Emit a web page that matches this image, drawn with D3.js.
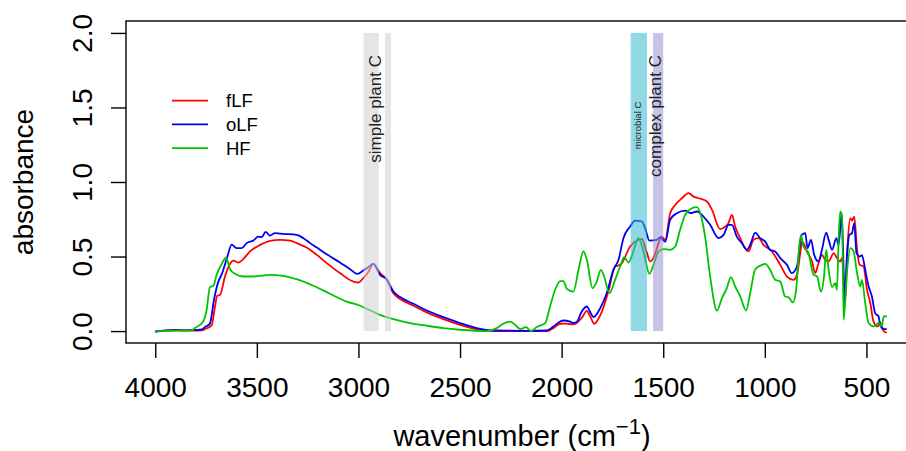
<!DOCTYPE html>
<html>
<head>
<meta charset="utf-8">
<script src="https://cdn.jsdelivr.net/npm/d3@7"></script>
<style>
  html, body { margin: 0; padding: 0; background: #fff; }
  svg { display: block; font-family: "Liberation Sans", Arial, Helvetica, sans-serif; }
</style>
</head>
<body>
<svg id="chart" width="906" height="451"></svg>
<script>
// FTIR spectra of three soil fractions (wavenumber in cm^-1, absorbance)
const wnFLF = [4000,3900,3800,3770,3755,3722,3706,3695,3681,3657,3632,3616,3591,3567,3534,3484,3435,3386,3337,3304,3255,3205,3156,3091,3025,3000,2976,2950,2927,2894,2861,2828,2795,2729,2664,2582,2500,2418,2350,2200,2073,2040,2007,1980,1942,1900,1876,1860,1839,1820,1802,1770,1737,1720,1704,1663,1638,1605,1584,1564,1545,1523,1507,1490,1466,1441,1408,1375,1351,1326,1285,1260,1220,1195,1179,1162,1146,1121,1097,1080,1056,1031,1006,965,924,891,859,842,826,817,810,793,768,752,736,719,703,686,661,645,629,620,604,593,579,571,560,546,533,514,497,481,465,445,432,415,400];
const absFLF = [0.0,0.005,0.003,0.005,0.013,0.04,0.165,0.237,0.243,0.366,0.451,0.473,0.46,0.483,0.534,0.578,0.605,0.612,0.607,0.59,0.56,0.511,0.456,0.389,0.332,0.326,0.355,0.40,0.451,0.39,0.345,0.254,0.215,0.17,0.125,0.08,0.042,0.013,0.002,0.0,0.0,0.02,0.049,0.05,0.045,0.09,0.136,0.10,0.049,0.08,0.131,0.265,0.433,0.44,0.456,0.567,0.6,0.617,0.54,0.467,0.5,0.59,0.634,0.612,0.791,0.846,0.891,0.925,0.902,0.891,0.869,0.813,0.684,0.701,0.724,0.78,0.701,0.623,0.556,0.534,0.612,0.623,0.578,0.534,0.444,0.366,0.344,0.377,0.52,0.6,0.59,0.534,0.467,0.389,0.456,0.511,0.478,0.467,0.523,0.489,0.467,0.49,0.21,0.567,0.757,0.74,0.768,0.545,0.444,0.433,0.277,0.188,0.064,0.031,0.054,0.0,-0.01];

const wnOLF = [4000,3950,3900,3850,3800,3770,3755,3731,3711,3690,3673,3645,3624,3600,3575,3550,3517,3493,3476,3457,3435,3411,3370,3304,3271,3238,3205,3156,3091,3041,3005,2976,2950,2927,2894,2861,2828,2795,2729,2664,2582,2500,2418,2336,2171,2073,2040,2007,1991,1958,1942,1926,1901,1876,1860,1843,1810,1778,1745,1720,1696,1663,1638,1605,1589,1568,1532,1515,1490,1466,1433,1392,1367,1334,1302,1269,1228,1203,1179,1162,1138,1113,1088,1072,1047,1023,998,974,949,924,891,867,842,825,818,801,790,773,757,736,719,698,686,669,648,637,628,622,614,608,596,584,571,560,549,533,522,506,489,473,457,440,432,415,400];
const absOLF = [-0.005,0.005,0.008,0.005,0.008,0.012,0.027,0.05,0.21,0.33,0.38,0.50,0.58,0.556,0.556,0.59,0.607,0.634,0.63,0.665,0.64,0.657,0.652,0.645,0.623,0.59,0.56,0.515,0.46,0.415,0.384,0.406,0.43,0.451,0.377,0.348,0.265,0.228,0.183,0.138,0.094,0.054,0.02,0.004,0.002,0.004,0.031,0.064,0.071,0.064,0.054,0.06,0.131,0.165,0.13,0.094,0.154,0.255,0.411,0.478,0.623,0.701,0.741,0.735,0.69,0.607,0.612,0.63,0.6,0.746,0.791,0.808,0.791,0.802,0.768,0.713,0.623,0.645,0.713,0.713,0.634,0.59,0.545,0.578,0.661,0.623,0.6,0.545,0.534,0.489,0.444,0.389,0.433,0.60,0.645,0.657,0.556,0.612,0.511,0.467,0.545,0.661,0.612,0.545,0.623,0.578,0.70,0.79,0.5,0.188,0.5,0.645,0.657,0.724,0.525,0.5,0.51,0.411,0.299,0.232,0.12,0.098,0.04,0.013,0.013];

const wnHF = [4000,3900,3820,3805,3764,3747,3731,3714,3698,3673,3652,3632,3608,3567,3517,3435,3370,3304,3222,3140,3058,2992,2960,2930,2894,2828,2746,2664,2582,2500,2369,2319,2287,2254,2229,2204,2175,2152,2122,2081,2057,2032,2007,1991,1974,1942,1917,1893,1876,1848,1827,1807,1791,1765,1737,1712,1692,1671,1647,1622,1597,1568,1548,1523,1499,1466,1441,1417,1392,1359,1334,1318,1294,1269,1236,1211,1187,1167,1146,1121,1092,1072,1047,1014,998,974,949,924,900,884,862,846,830,822,810,785,760,743,724,708,698,686,669,653,645,637,629,620,612,596,579,563,546,530,522,506,489,465,440,424,415,399];
const absHF = [0.0,0.003,0.005,0.02,0.064,0.143,0.295,0.304,0.377,0.451,0.493,0.415,0.384,0.366,0.366,0.377,0.371,0.348,0.304,0.25,0.198,0.17,0.15,0.131,0.109,0.08,0.054,0.036,0.02,0.009,0.0,0.02,0.049,0.064,0.042,0.013,0.027,0.0,0.027,0.054,0.165,0.277,0.335,0.335,0.282,0.265,0.411,0.534,0.478,0.288,0.332,0.411,0.366,0.255,0.344,0.433,0.496,0.46,0.534,0.623,0.534,0.384,0.444,0.534,0.55,0.545,0.567,0.679,0.78,0.824,0.831,0.791,0.634,0.366,0.138,0.221,0.288,0.362,0.299,0.232,0.138,0.255,0.415,0.444,0.451,0.411,0.344,0.332,0.232,0.228,0.192,0.277,0.58,0.645,0.567,0.523,0.377,0.366,0.265,0.377,0.545,0.411,0.295,0.322,0.277,0.612,0.802,0.768,0.076,0.389,0.556,0.534,0.389,0.299,0.344,0.188,0.054,0.031,0.054,0.031,0.098,0.098];

const seriesNames = ["fLF", "oLF", "HF"];
const seriesColors = ["#ff0000", "#0000f0", "#00c400"];

// Highlighted absorption regions: [high, low] wavenumber
const bandRanges = [[2975, 2900], [2870, 2840], [1660, 1580], [1550, 1500]];
const bandFills = ["#d0d0d0", "#d0d0d0", "#33b8ce", "#9692d1"];
const bandLabels = ["simple plant C", "microbial C", "complex plant C"];
const bandLabelPos = [2908, 1620, 1525];

const xTicks = [4000, 3500, 3000, 2500, 2000, 1500, 1000, 500];
const yTicks = [0, 0.5, 1, 1.5, 2];

const svg = d3.select("#chart");
const plotL = 126, plotR = 916, plotT = 21, plotB = 343;

const x = d3.scaleLinear().domain([4144, 256]).range([plotL, plotR]);
const y = d3.scaleLinear().domain([-0.08, 2.08]).range([plotB, plotT]);

const series = [
  { wn: wnFLF, ab: absFLF },
  { wn: wnOLF, ab: absOLF },
  { wn: wnHF, ab: absHF }
];

const line = d3.line()
  .x(d => x(d[0]))
  .y(d => y(d[1]))
  .curve(d3.curveMonotoneX);

// spectra
series.forEach((s, i) => {
  const pts = s.wn.map((w, k) => [w, s.ab[k]]);
  svg.append("path")
    .attr("d", line(pts))
    .attr("fill", "none")
    .attr("stroke", seriesColors[i])
    .attr("stroke-width", 1.8)
    .attr("stroke-linejoin", "round");
});

// translucent bands over the spectra
bandRanges.forEach((b, i) => {
  svg.append("rect")
    .attr("x", x(b[0]))
    .attr("y", y(2))
    .attr("width", x(b[1]) - x(b[0]))
    .attr("height", y(0) - y(2))
    .attr("fill", bandFills[i])
    .attr("fill-opacity", 0.55);
});

// band labels (vertical)
[
  { size: 17, anchor: "end", yPos: 55, dy: "0.2em" },
  { size: 9.5, anchor: "middle", yPos: 125.5, dy: "0.2em" },
  { size: 17, anchor: "end", yPos: 55, dy: "0.18em" }
].forEach((o, i) => {
  svg.append("text")
    .attr("transform", `translate(${x(bandLabelPos[i])},${o.yPos}) rotate(-90)`)
    .attr("text-anchor", o.anchor)
    .attr("dy", o.dy)
    .attr("font-size", o.size)
    .attr("fill", "#222")
    .text(bandLabels[i]);
});

// plot frame
svg.append("rect")
  .attr("x", plotL).attr("y", plotT)
  .attr("width", plotR - plotL).attr("height", plotB - plotT)
  .attr("fill", "none").attr("stroke", "#000").attr("stroke-width", 1.4);

// x axis
const gx = svg.append("g")
  .attr("transform", `translate(0,${plotB})`)
  .call(d3.axisBottom(x).tickValues(xTicks).tickSize(15).tickPadding(19).tickFormat(d3.format("d")));
gx.select(".domain").remove();
gx.selectAll(".tick line").attr("stroke", "#000").attr("stroke-width", 1.4);
gx.selectAll(".tick text").attr("font-size", 28).attr("fill", "#000")
  .attr("font-family", "Liberation Sans, Arial, sans-serif");

// y axis with rotated labels
const gy = svg.append("g")
  .attr("transform", `translate(${plotL},0)`)
  .call(d3.axisLeft(y).tickValues(yTicks).tickSize(15).tickFormat(d3.format(".1f")));
gy.select(".domain").remove();
gy.selectAll(".tick line").attr("stroke", "#000").attr("stroke-width", 1.4);
gy.selectAll(".tick text")
  .attr("x", null).attr("dy", null)
  .attr("transform", "translate(-34,0) rotate(-90)")
  .attr("text-anchor", "middle")
  .attr("font-size", 28).attr("fill", "#000")
  .attr("font-family", "Liberation Sans, Arial, sans-serif");

// axis titles
svg.append("text")
  .attr("transform", `translate(33,${(plotT + plotB) / 2}) rotate(-90)`)
  .attr("text-anchor", "middle")
  .attr("font-size", 28)
  .text("absorbance");

const xt = svg.append("text")
  .attr("x", (plotL + plotR) / 2 + 1)
  .attr("y", 446)
  .attr("text-anchor", "middle")
  .attr("font-size", 29);
xt.append("tspan").text("wavenumber (cm");
xt.append("tspan").attr("dy", -12).attr("font-size", 22).text("\u22121");
xt.append("tspan").attr("dy", 12).text(")");

// legend
const lg = svg.append("g");
seriesNames.forEach((n, i) => {
  const yy = 100.7 + i * 23.7;
  lg.append("line")
    .attr("x1", 172).attr("x2", 208)
    .attr("y1", yy).attr("y2", yy)
    .attr("stroke", seriesColors[i]).attr("stroke-width", 1.8);
  lg.append("text")
    .attr("x", 226).attr("y", yy)
    .attr("dy", "0.36em")
    .attr("font-size", 18.5)
    .text(n);
});
</script>
</body>
</html>
